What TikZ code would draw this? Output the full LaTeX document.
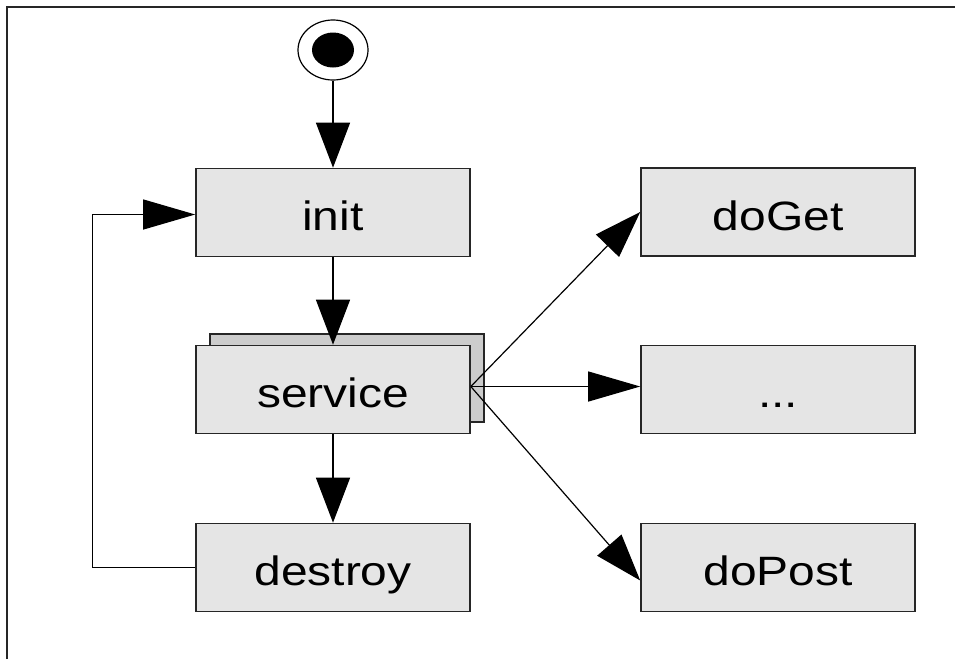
\documentclass[tikz,border=0pt]{standalone}
\usepackage{graphicx}
\usepackage{fontspec}
\setmainfont{Liberation Sans}
\usetikzlibrary{arrows.meta,shapes.geometric}
\newcommand\stx[1]{\scalebox{1.17}[1]{#1}}
\tikzset{
  vtip/.tip={Triangle[length=45pt,width=34pt]},
  htip/.tip={Triangle[length=52pt,width=30pt]},
  dtip/.tip={Triangle[length=47pt,width=32pt]},
  statebox/.style={draw=black!85, line width=1.6pt, fill=black!10,
    minimum width=274pt, minimum height=88pt, inner sep=0pt,
    text height=36pt, text depth=0pt, font=\fontsize{41}{48}\selectfont},
  shadowbox/.style={statebox, fill=black!20},
  conn/.style={line width=1.2pt, draw=black},
}
\begin{document}
\begin{tikzpicture}[x=1pt,y=-1pt]
\useasboundingbox (0,0) rectangle (955,659);
\draw[line width=2.5pt, black!85] (7,659) -- (7,7) -- (955,7);

\node[draw, ellipse, line width=1.2pt, minimum width=70pt, minimum height=60pt, inner sep=0pt] (start) at (333,50) {};
\node[ellipse, fill=black, minimum width=42pt, minimum height=35pt, inner sep=0pt] (startdot) at (start.center) {};

\node[statebox] (init) at (333,212.5) {\stx{init}};
\node[shadowbox] (serviceback) at (347,378) {};
\node[statebox] (service) at (333,389.5) {\stx{service}};
\node[statebox] (destroy) at (333,567.5) {\stx{destroy}};
\node[statebox] (doget) at (778,212) {\stx{doGet}};
\node[statebox] (dots) at (778,389.5) {\stx{...}};
\node[statebox] (dopost) at (778,567.5) {\stx{doPost}};

\draw[conn, -{vtip}] (start.south) -- (init.north);
\draw[conn, -{vtip}] (init.south) -- (service.north);
\draw[conn, -{vtip}] (service.south) -- (destroy.north);
\draw[conn, -{htip}] (destroy.west) -- ++(-103,0) |- ([yshift=-2pt]init.west);
\draw[conn, -{dtip}] ([yshift=3pt]service.east) -- (doget.west);
\draw[conn, -{htip}] ([yshift=3pt]service.east) -- ([yshift=3pt]dots.west);
\draw[conn, -{dtip}] ([yshift=3pt]service.east) -- ([yshift=-13pt]dopost.west);
\end{tikzpicture}
\end{document}
